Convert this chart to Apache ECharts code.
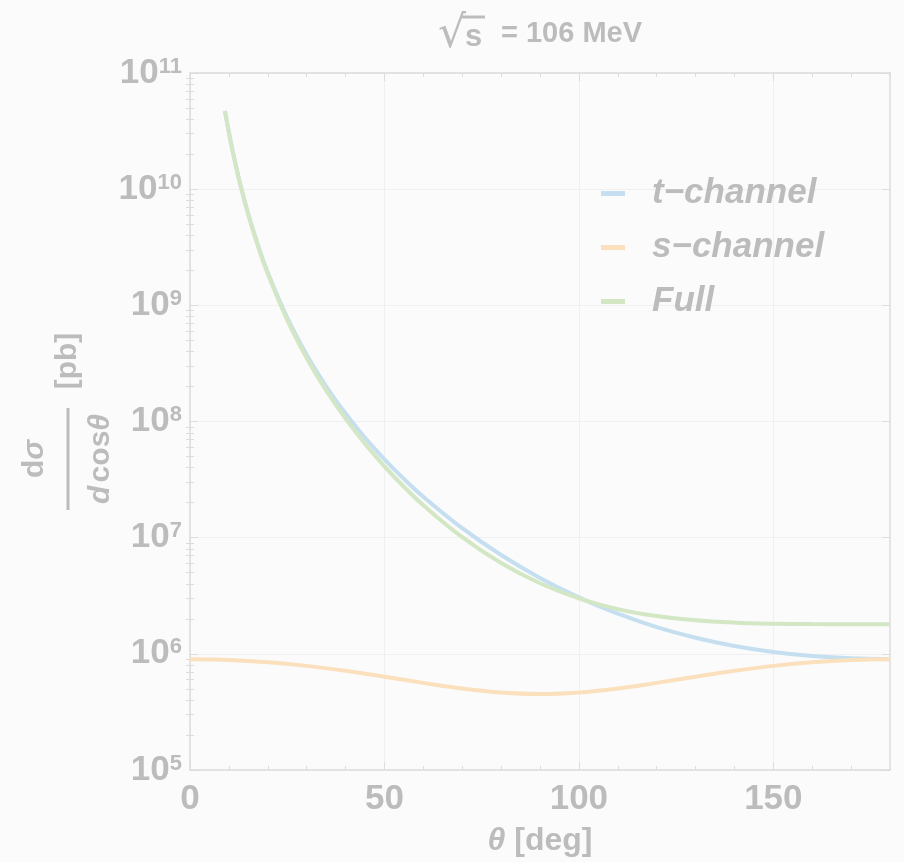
<!DOCTYPE html>
<html>
<head>
<meta charset="utf-8">
<script src="https://cdn.jsdelivr.net/npm/echarts@6/dist/echarts.min.js"></script>
<style>
  html, body { margin: 0; padding: 0; background: #fbfbfb; }
  #chart { width: 904px; height: 862px; }
</style>
</head>
<body>
<div id="chart"></div>
<script>
// Scattering angle (degrees) for the t-channel and full curves
const thetaTF = [9, 10, 11, 12, 13, 15, 17.5, 20, 25, 30, 35, 40, 45, 50, 55, 60, 70, 80, 90, 100, 110, 120, 130, 140, 150, 160, 170, 180];
// dσ/dcosθ in pb
const tChannel = [4.721e10, 3.096e10, 2.113e10, 1.491e10, 1.082e10, 6.097e9, 3.284e9, 1.921e9, 7.827e8, 3.752e8, 2.011e8, 1.171e8, 7.254e7, 4.725e7, 3.205e7, 2.25e7, 1.206e7, 7.087e6, 4.5e6, 3.060e6, 2.215e6, 1.7e6, 1.377e6, 1.170e6, 1.039e6, 9.58e5, 9.14e5, 9.0e5];
const fullXs = [4.692e10, 3.073e10, 2.094e10, 1.475e10, 1.069e10, 5.995e9, 3.211e9, 1.866e9, 7.486e8, 3.526e8, 1.854e8, 1.058e8, 6.426e7, 4.109e7, 2.743e7, 1.901e7, 1.010e7, 6.051e6, 4.05e6, 3.000e6, 2.428e6, 2.113e6, 1.943e6, 1.856e6, 1.817e6, 1.803e6, 1.800e6, 1.8e6];
// s-channel sampled over the whole range
const thetaS = [0, 10, 20, 30, 40, 50, 60, 70, 80, 90, 100, 110, 120, 130, 140, 150, 160, 170, 180];
const sChannel = [9.0e5, 8.864e5, 8.474e5, 7.875e5, 7.141e5, 6.359e5, 5.625e5, 5.026e5, 4.636e5, 4.5e5, 4.636e5, 5.026e5, 5.625e5, 6.359e5, 7.141e5, 7.875e5, 8.474e5, 8.864e5, 9.0e5];

const seriesNames = ['t\u2212channel', 's\u2212channel', 'Full'];
const xMajor = [0, 50, 100, 150];
const xMinor = [10, 20, 30, 40, 60, 70, 80, 90, 110, 120, 130, 140, 160, 170, 180];
const yDecades = [1e5, 1e6, 1e7, 1e8, 1e9, 1e10, 1e11];

const yMinor = [];
for (let d = 5; d < 11; d++) {
  for (let k = 2; k <= 9; k++) yMinor.push(k * Math.pow(10, d));
}

const zip = (xs, ys) => xs.map((x, i) => [x, ys[i]]);

const TXT = '#bcbcbc';
const FRAME = '#dcdcdc';
const GRID = '#f0f0f0';
const FONT = '"Liberation Sans", Arial, sans-serif';
const COLORS = ['#c5dff1', '#fbe0bd', '#d3e7c5'];

const chart = echarts.init(document.getElementById('chart'), null, { renderer: 'canvas' });

function xAxisDef(pos, ticks, len, opts) {
  return Object.assign({
    type: 'value', position: pos, min: 0, max: 180,
    axisLine: { show: false },
    axisTick: { show: true, inside: true, length: len, customValues: ticks, lineStyle: { color: FRAME, width: 1 } },
    axisLabel: { show: false },
    splitLine: { show: false }
  }, opts || {});
}
function yAxisDef(pos, ticks, len, opts) {
  return Object.assign({
    type: 'log', logBase: 10, position: pos, min: 1e5, max: 1e11,
    axisLine: { show: false },
    axisTick: { show: true, inside: true, length: len, customValues: ticks, lineStyle: { color: FRAME, width: 1 } },
    axisLabel: { show: false },
    splitLine: { show: false }
  }, opts || {});
}

const option = {
  backgroundColor: '#fbfbfb',
  animation: false,
  textStyle: { fontFamily: FONT },
  grid: { left: 190, right: 14, top: 73, bottom: 89, containLabel: false },
  legend: {
    orient: 'vertical', left: 596, top: 171,
    data: seriesNames,
    icon: 'rect', itemWidth: 24, itemHeight: 5, itemGap: 19,
    formatter: name => '{a|' + name + '}',
    textStyle: {
      rich: {
        a: { fontSize: 35, lineHeight: 32, fontWeight: 'bold', fontStyle: 'italic', color: TXT, fontFamily: FONT, padding: [0, 0, 0, 22] }
      }
    }
  },
  xAxis: [
    xAxisDef('bottom', xMajor, 8, {
      axisLine: { show: true, onZero: false, lineStyle: { color: FRAME, width: 1.5 } },
      axisLabel: {
        show: true, customValues: xMajor, margin: 12,
        color: TXT, fontSize: 35, fontWeight: 'bold', fontFamily: FONT
      },
      splitLine: { show: true, lineStyle: { color: GRID, width: 1 } },
      name: '{i|\u03B8} [deg]', nameLocation: 'middle', nameGap: 55,
      nameTextStyle: {
        color: TXT, fontSize: 32, fontWeight: 'bold', fontFamily: FONT,
        rich: { i: { fontStyle: 'italic', fontSize: 32, fontWeight: 'bold', color: TXT, fontFamily: FONT } }
      }
    }),
    xAxisDef('bottom', xMinor, 4),
    xAxisDef('top', xMajor, 8, { axisLine: { show: true, onZero: false, lineStyle: { color: FRAME, width: 1.5 } } }),
    xAxisDef('top', xMinor, 4)
  ],
  yAxis: [
    yAxisDef('left', yDecades, 8, {
      axisLine: { show: true, onZero: false, lineStyle: { color: FRAME, width: 1.5 } },
      axisLabel: {
        show: true, customValues: yDecades, margin: 8,
        formatter: v => '{b|10}{s|' + Math.round(Math.log10(v)) + '}',
        rich: {
          b: { fontSize: 35, fontWeight: 'bold', color: TXT, fontFamily: FONT },
          s: { fontSize: 22, fontWeight: 'bold', color: TXT, fontFamily: FONT, verticalAlign: 'top' }
        }
      },
      splitLine: { show: true, lineStyle: { color: GRID, width: 1 } }
    }),
    yAxisDef('left', yMinor, 4),
    yAxisDef('right', yDecades, 8, { axisLine: { show: true, onZero: false, lineStyle: { color: FRAME, width: 1.5 } } }),
    yAxisDef('right', yMinor, 4)
  ],
  series: [
    {
      name: seriesNames[0], type: 'line', xAxisIndex: 0, yAxisIndex: 0,
      data: zip(thetaTF, tChannel), showSymbol: false, smooth: 0.4,
      lineStyle: { width: 4, color: COLORS[0] }, itemStyle: { color: COLORS[0] }
    },
    {
      name: seriesNames[1], type: 'line', xAxisIndex: 0, yAxisIndex: 0,
      data: zip(thetaS, sChannel), showSymbol: false, smooth: 0.4,
      lineStyle: { width: 4, color: COLORS[1] }, itemStyle: { color: COLORS[1] }
    },
    {
      name: seriesNames[2], type: 'line', xAxisIndex: 0, yAxisIndex: 0,
      data: zip(thetaTF, fullXs), showSymbol: false, smooth: 0.4,
      lineStyle: { width: 4, color: COLORS[2] }, itemStyle: { color: COLORS[2] }
    }
  ],
  graphic: {
    elements: [
      // plot title: √s = 106 MeV
      {
        type: 'text', x: 438, y: 36, z: 20,
        style: { text: '\u221A', align: 'left', verticalAlign: 'middle', fontSize: 44, fontFamily: 'DejaVu Sans', fill: TXT }
      },
      {
        type: 'polyline', z: 20,
        shape: { points: [[461, 17], [485, 17]] },
        style: { stroke: TXT, lineWidth: 3, fill: null }
      },
      {
        type: 'text', x: 465, y: 37, z: 20,
        style: { text: 's', align: 'left', verticalAlign: 'middle', fontSize: 31, fontWeight: 'bold', fontFamily: FONT, fill: TXT }
      },
      {
        type: 'text', x: 501, y: 34, z: 20,
        style: { text: '= 106 MeV', align: 'left', verticalAlign: 'middle', fontSize: 29, fontWeight: 'bold', fontFamily: FONT, fill: TXT }
      },
      // y-axis title: dσ / d cosθ [pb]
      {
        type: 'group', x: 68, y: 459, rotation: Math.PI / 2,
        children: [
          {
            type: 'text', x: 0, y: -33,
            style: {
              text: '{u|d}{i|\u03C3}', align: 'center', verticalAlign: 'middle',
              rich: {
                u: { fontSize: 30, fontWeight: 'bold', fill: TXT, fontFamily: FONT },
                i: { fontSize: 30, fontWeight: 'bold', fontStyle: 'italic', fill: TXT, fontFamily: FONT }
              }
            }
          },
          { type: 'line', shape: { x1: -51, y1: 0, x2: 51, y2: 0 }, style: { stroke: TXT, lineWidth: 3 } },
          {
            type: 'text', x: 0, y: 33,
            style: {
              text: '{i|d} {u|cos}{i|\u03B8}', align: 'center', verticalAlign: 'middle',
              rich: {
                u: { fontSize: 30, fontWeight: 'bold', fill: TXT, fontFamily: FONT },
                i: { fontSize: 30, fontWeight: 'bold', fontStyle: 'italic', fill: TXT, fontFamily: FONT }
              }
            }
          },
          {
            type: 'text', x: 98, y: 0,
            style: { text: '[pb]', align: 'center', verticalAlign: 'middle', fontSize: 30, fontWeight: 'bold', fill: TXT, fontFamily: FONT }
          }
        ]
      }
    ]
  }
};

chart.setOption(option);
</script>
</body>
</html>
